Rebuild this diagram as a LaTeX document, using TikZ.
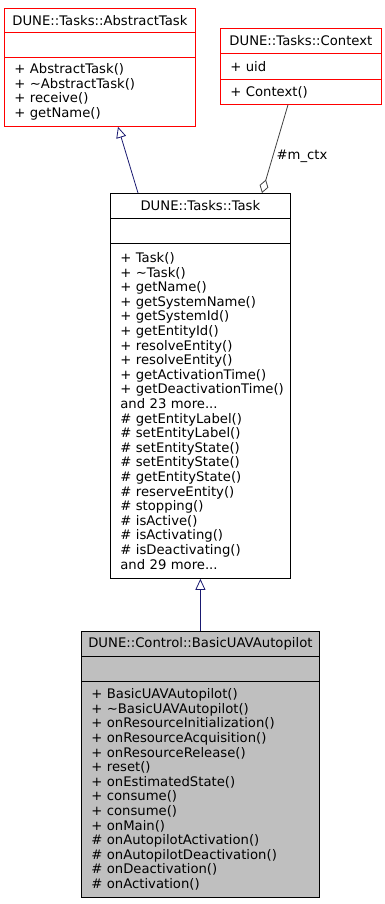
\documentclass[tikz,border=0pt]{standalone}
\usepackage{fontspec}
\setmainfont{DejaVu Sans}
\usepackage{xcolor}
\usepackage{tikz}
\usetikzlibrary{arrows.meta,positioning,calc}

\definecolor{edgeblue}{HTML}{191970}
\definecolor{edgegrey}{HTML}{404040}
\definecolor{boxgrey}{HTML}{BFBFBF}
\newcommand{\clsfont}{\fontsize{13.2}{14.6}\selectfont\hyphenpenalty=10000\relax\hbadness=10000\relax\hfuzz=20pt\relax}

\begin{document}
\begin{tikzpicture}[x=1pt,y=-1pt,
  cls/.style={draw=black,line width=0.8pt,inner sep=0pt,anchor=north west,font=\clsfont},
  clstitle/.style={cls,minimum height=25pt,align=center},
  clsbody/.style={cls,align=left,inner xsep=10pt,inner ysep=3.5pt},
  redbox/.style={draw=red},
  inherit/.style={-{Triangle[open,length=11pt,width=10pt]},line width=0.8pt,draw=edgeblue},
  member/.style={{Diamond[open,length=14pt,width=9pt]}-,line width=0.8pt,draw=edgegrey}
]
\useasboundingbox (0,0) rectangle (384,904);

% DUNE::Tasks::AbstractTask
\node[clstitle,redbox,minimum width=191pt,minimum height=24pt] (abstitle) at (4,8) {DUNE::Tasks::AbstractTask};
\node[cls,redbox,minimum width=191pt,minimum height=25pt] (absattr) at (4,32) {};
\node[clsbody,redbox,text width=171pt,minimum height=69pt] (absmeth) at (4,57)
  {+ AbstractTask()\\+ \textasciitilde AbstractTask()\\+ receive()\\+ getName()};

% DUNE::Tasks::Context
\node[clstitle,redbox,minimum width=161pt] (ctxtitle) at (220,28) {DUNE::Tasks::Context};
\node[clsbody,redbox,text width=141pt,minimum height=26pt] (ctxattr) at (220,53) {+ uid};
\node[clsbody,redbox,text width=141pt,minimum height=25pt] (ctxmeth) at (220,79) {+ Context()};

% DUNE::Tasks::Task
\node[clstitle,minimum width=180pt] (tasktitle) at (110,193) {DUNE::Tasks::Task};
\node[cls,minimum width=180pt,minimum height=25pt] (taskattr) at (110,218) {};
\node[clsbody,text width=160pt,minimum height=335pt] (taskmeth) at (110,243)
  {+ Task()\\+ \textasciitilde Task()\\+ getName()\\+ getSystemName()\\+ getSystemId()\\
   + getEntityId()\\+ resolveEntity()\\+ resolveEntity()\\+ getActivationTime()\\
   +~getDeactivationTime()\\and 23 more...\\\# getEntityLabel()\\\# setEntityLabel()\\
   \# setEntityState()\\\# setEntityState()\\\# getEntityState()\\\# reserveEntity()\\
   \# stopping()\\\# isActive()\\\# isActivating()\\\# isDeactivating()\\and 29 more...};

% DUNE::Control::BasicUAVAutopilot
\node[clstitle,fill=boxgrey,minimum width=238pt] (uavtitle) at (81,631) {DUNE::Control::BasicUAVAutopilot};
\node[cls,fill=boxgrey,minimum width=238pt,minimum height=25pt] (uavattr) at (81,656) {};
\node[clsbody,fill=boxgrey,text width=218pt,minimum height=216pt] (uavmeth) at (81,681)
  {+ BasicUAVAutopilot()\\+ \textasciitilde BasicUAVAutopilot()\\+ onResourceInitialization()\\
   + onResourceAcquisition()\\+ onResourceRelease()\\+ reset()\\+ onEstimatedState()\\
   + consume()\\+ consume()\\+ onMain()\\\# onAutopilotActivation()\\
   \# onAutopilotDeactivation()\\\# onDeactivation()\\\# onActivation()};

\draw[inherit] ([xshift=28pt]tasktitle.north west)--([xshift=114pt]absmeth.south west);
\draw[inherit] (uavtitle.north)--(taskmeth.south);
\draw[member] ([xshift=152pt]tasktitle.north west)--
  node[pos=0.42,right,font=\clsfont]{\#m\_ctx}([xshift=68pt]ctxmeth.south west);
\end{tikzpicture}
\end{document}
